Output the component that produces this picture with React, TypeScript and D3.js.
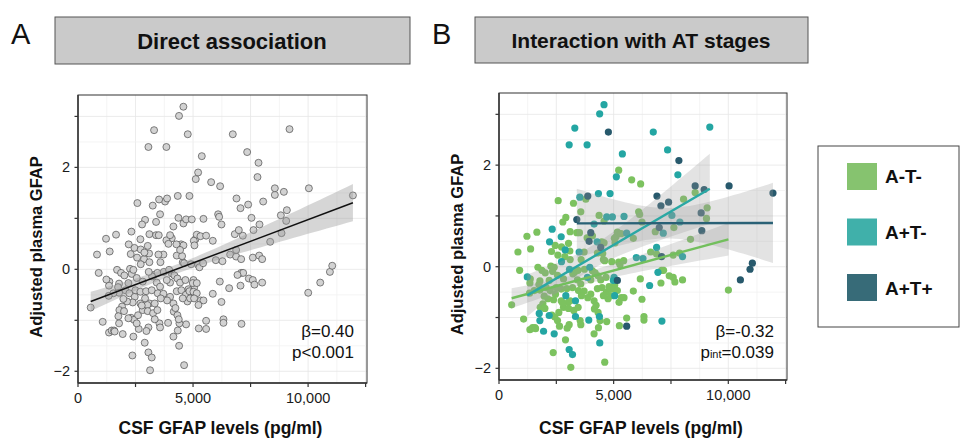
import React from 'react';
import * as d3 from 'd3';

// A-T- group: CSF GFAP (pg/ml) and adjusted plasma GFAP
const atNegX = [5220, 5786, 6177, 8555, 2581, 3248, 3785, 8048, 9077, 3567, 2915, 2784, 4365, 4582, 6090, 6134, 6235, 9048, 1218, 1653, 3103, 3393, 3509, 4075, 3842, 5104, 5162, 5322, 5858, 5032, 5061, 4481, 4582, 4292, 2291, 2451, 2726, 3031, 3089, 3712, 3582, 826, 1378, 6815, 8352, 7627, 6612, 6873, 899, 1363, 1348, 1697, 1871, 1784, 1740, 2016, 2262, 2335, 2407, 2567, 2871, 3103, 3292, 3451, 3727, 4075, 4002, 4191, 4321, 4437, 4553, 4611, 4524, 4916, 5220, 5278, 5438, 7091, 7178, 7062, 7424, 7598, 7670, 8004, 6163, 4669, 5046, 4800, 3422, 3567, 3219, 2813, 2552, 2190, 2059, 551, 2233, 2465, 2494, 2712, 2958, 3205, 3466, 3712, 4002, 4292, 4495, 4684, 4843, 5017, 5162, 5336, 5452, 5235, 4756, 4872, 4553, 4147, 3872, 3596, 3103, 2712, 2378, 2132, 1972, 1784, 1537, 1334, 1914, 1798, 2001, 2306, 2436, 2610, 2813, 3016, 3031, 3263, 3451, 3538, 4162, 4234, 4321, 5858, 6235, 5568, 6322, 6322, 10005, 1073, 2770, 1348, 1465, 1566, 1595, 2639, 3060, 2973, 3567, 2900, 4336, 4147, 4698, 5249, 2364, 4611, 3132, 4408, 2552, 7598, 7874];
const atNegY = [1.90, 1.71, 1.63, 1.46, 1.30, 1.25, 1.33, 1.33, 1.16, 1.08, 0.97, 0.88, 1.01, 0.90, 1.08, 1.03, 0.88, 0.95, 0.60, 0.68, 0.69, 0.67, 0.67, 0.61, 0.57, 0.59, 0.68, 0.65, 0.56, 0.56, 0.47, 0.49, 0.47, 0.27, 0.30, 0.42, 0.39, 0.46, 0.31, 0.29, 0.14, 0.29, 0.35, 0.69, 0.54, 0.77, 0.29, 0.25, -0.07, -0.24, -0.32, -0.01, -0.07, -0.28, -0.35, -0.12, 0.01, -0.09, -0.01, 0.23, 0.20, 0.14, -0.11, -0.07, -0.05, -0.08, -0.26, -0.12, -0.18, -0.26, 0.14, 0.12, 0.26, 0.10, 0.09, 0.04, 0.12, -0.07, -0.07, -0.32, -0.18, -0.21, -0.30, -0.26, -0.24, -0.21, -0.36, -0.39, -0.26, -0.34, -0.14, -0.24, -0.17, -0.27, -0.41, -0.75, -0.47, -0.54, -0.41, -0.44, -0.43, -0.41, -0.47, -0.48, -0.54, -0.43, -0.41, -0.50, -0.43, -0.44, -0.47, -0.61, -0.61, -0.70, -0.63, -0.57, -0.57, -0.67, -0.61, -0.57, -0.67, -0.67, -0.65, -0.63, -0.58, -0.46, -0.47, -0.52, -0.73, -0.80, -0.82, -0.95, -0.99, -0.90, -0.80, -0.70, -0.82, -0.86, -0.80, -1.06, -0.83, -0.76, -0.90, -0.48, -0.64, -1.01, -0.98, -1.05, -0.46, -1.03, -0.71, -1.24, -1.20, -1.20, -1.22, -1.17, -1.14, -1.21, -1.14, -1.44, -1.20, -1.32, -1.08, -1.16, -1.69, -1.88, -1.98, -1.06, -1.06, 0.23, 0.27];

// A+T- group
const apTnegX = [4580, 4390, 3306, 3060, 3842, 6728, 9193, 7352, 5380, 5118, 7801, 3524, 4336, 4843, 4698, 4945, 5452, 7540, 2320, 2712, 4147, 5568, 4278, 2204, 2886, 3495, 7163, 7888, 6873, 1233, 2726, 3074, 3959, 3857, 5989, 6279, 6931, 6569, 5017, 4988, 5046, 3335, 2915, 1755, 2190, 3335, 3915, 4379, 7105, 1943, 1784, 2407, 3060, 3205, 4394, 8004];
const apTnegY = [3.19, 3.01, 2.73, 2.40, 2.40, 2.65, 2.75, 2.30, 2.22, 1.77, 1.81, 1.37, 1.44, 1.44, 0.98, 0.98, 0.99, 1.01, 0.74, 0.59, 0.84, 0.66, 0.49, 0.49, 0.33, 0.29, 0.66, 0.88, 0.38, -0.20, 0.10, -0.05, -0.01, -0.21, 0.18, 0.16, -0.11, -0.37, -0.21, -0.27, -0.57, -0.67, -0.57, -0.92, -0.96, -0.98, -1.05, -0.98, -1.07, -1.27, -1.06, -1.32, -1.63, -1.73, -1.50, 0.20];

// A+T+ group
const apTposX = [4770, 7845, 8555, 10034, 8947, 11948, 3872, 6888, 7062, 7395, 8816, 3393, 4002, 4437, 3930, 6989, 8845, 7091, 5162, 10527, 10948, 11049, 5568];
const apTposY = [2.65, 2.09, 1.59, 1.59, 1.52, 1.45, 1.39, 1.39, 1.20, 1.27, 1.06, 0.93, 0.67, 0.38, 0.50, 0.77, 0.71, 0.20, -0.27, -0.26, -0.05, 0.07, -1.17];

// fitted lines: [intercept, slope] and CI [min half width, x at min, slope of widening]
const fitAllLine = [-0.724, 1.70e-4];
const fitAllBand = [0.09, 4200, 4.56e-5];
const fitAtNegLine = [-0.688, 1.227e-4];
const fitAtNegBand = [0.12, 3800, 4.8e-5];
const fitApTnegLine = [-0.889, 2.637e-4];
const fitApTnegBand = [0.23, 4000, 1.25e-4];
const fitApTposLine = [0.85, 1e-6];
const fitApTposBand = [0.3, 7300, 1.57e-4];

const groupNames = ['A-T-', 'A+T-', 'A+T+'];
const pointColors = ['#7cc25f', '#24a6a3', '#27596c'];
const lineColors = ['#72bf5c', '#2aa8a4', '#2a6176'];
const legendColors = ['#86c36f', '#40b0aa', '#376b78'];

const xTickValues = [0, 2500, 5000, 7500, 10000, 12500];
const xLabelValues = [0, 5000, 10000];
const yTickValues = [-2, -1, 0, 1, 2, 3];
const yLabelValues = [-2, 0, 2];

const FONT = "'Liberation Sans', Arial, Helvetica, sans-serif";
const xDomain = [0, 12560];
const yDomain = [-2.23, 3.42];

type Series = { xs: number[]; ys: number[]; color: string; line: number[]; band: number[]; lineColor: string };

function Panel({ left, top, right, bottom, series, grey, stat }: any) {
  const x = d3.scaleLinear().domain(xDomain).range([left, right]);
  const y = d3.scaleLinear().domain(yDomain).range([bottom, top]);
  const fmtX = d3.format(',');
  const fmtY = d3.format('d');
  const gridX = d3.range(0, 12501, 1250);
  const gridY = d3.range(-2, 3.01, 0.5);

  const bandPaths = (series as Series[]).map((s) => {
    const [lo, hi] = d3.extent(s.xs) as [number, number];
    const xs = d3.range(0, 41).map((i) => lo + ((hi - lo) * i) / 40);
    const fit = (v: number) => s.line[0] + s.line[1] * v;
    const hw = (v: number) => Math.sqrt(s.band[0] ** 2 + (s.band[2] * (v - s.band[1])) ** 2);
    const area = d3
      .area<number>()
      .x((v) => x(v))
      .y0((v) => y(fit(v) - hw(v)))
      .y1((v) => y(fit(v) + hw(v)));
    const line = d3
      .line<number>()
      .x((v) => x(v))
      .y((v) => y(fit(v)));
    return { area: area(xs), line: line([lo, hi]), color: s.lineColor };
  });

  return (
    <g>
      <rect x={left} y={top} width={right - left} height={bottom - top} fill="#fff" />
      {gridX.map((v) => (
        <line key={'gx' + v} x1={x(v)} x2={x(v)} y1={top} y2={bottom} stroke={v % 2500 === 0 ? '#e6e6e6' : '#f1f1f1'} strokeWidth={0.8} />
      ))}
      {gridY.map((v) => (
        <line key={'gy' + v} x1={left} x2={right} y1={y(v)} y2={y(v)} stroke={Number.isInteger(v) ? '#e6e6e6' : '#f1f1f1'} strokeWidth={0.8} />
      ))}
      {(series as Series[]).map((s, si) =>
        s.xs.map((v, i) => (
          <circle
            key={si + '-' + i}
            cx={x(v)}
            cy={y(s.ys[i])}
            r={grey ? 3.5 : 3.6}
            fill={grey ? '#d2d2d2' : s.color}
            stroke={grey ? '#4d4d4d' : 'none'}
            strokeWidth={0.7}
          />
        ))
      )}
      {bandPaths.map((b, i) => (
        <path key={'b' + i} d={b.area || ''} fill="#999" fillOpacity={grey ? 0.4 : 0.28} />
      ))}
      {bandPaths.map((b, i) => (
        <path key={'l' + i} d={b.line || ''} fill="none" stroke={b.color} strokeWidth={grey ? 1.5 : 2.4} />
      ))}
      <rect x={left} y={top} width={right - left} height={bottom - top} fill="none" stroke="#333" strokeWidth={1} />
      <line x1={left} x2={left} y1={top} y2={bottom} stroke="#333" strokeWidth={1.4} />
      <line x1={left} x2={right} y1={bottom} y2={bottom} stroke="#333" strokeWidth={1.4} />
      {xTickValues.map((v) => (
        <line key={'tx' + v} x1={x(v)} x2={x(v)} y1={bottom} y2={bottom + 4} stroke="#333" strokeWidth={1.2} />
      ))}
      {yTickValues.map((v) => (
        <line key={'ty' + v} x1={left - 3.5} x2={left} y1={y(v)} y2={y(v)} stroke="#333" strokeWidth={1.2} />
      ))}
      {xLabelValues.map((v) => (
        <text key={'lx' + v} x={x(v)} y={bottom + 20} textAnchor="middle" fontSize={14.5} fill="#1a1a1a">
          {fmtX(v)}
        </text>
      ))}
      {yLabelValues.map((v) => (
        <text key={'ly' + v} x={left - 8} y={y(v) + 5} textAnchor="end" fontSize={14.5} fill="#1a1a1a">
          {fmtY(v)}
        </text>
      ))}
      <text x={(left + right) / 2 - 2} y={434} textAnchor="middle" fontSize={17.5} fontWeight="bold" fill="#111">
        CSF GFAP levels (pg/ml)
      </text>
      <text transform={`translate(${left - 36},${(top + bottom) / 2 + 8}) rotate(-90)`} textAnchor="middle" fontSize={16.5} fontWeight="bold" fill="#111">
        Adjusted plasma GFAP
      </text>
      <text x={right - 13} y={337} textAnchor="end" fontSize={17} fill="#111">
        {stat[0]}
      </text>
      <text x={right - 13} y={358} textAnchor="end" fontSize={17} fill="#111">
        {stat[1]}
      </text>
    </g>
  );
}

export default function App() {
  const allSeries: Series[] = [
    {
      xs: [...atNegX, ...apTnegX, ...apTposX],
      ys: [...atNegY, ...apTnegY, ...apTposY],
      color: '#d2d2d2',
      line: fitAllLine,
      band: fitAllBand,
      lineColor: '#111',
    },
  ];
  const groupSeries: Series[] = [
    { xs: atNegX, ys: atNegY, color: pointColors[0], line: fitAtNegLine, band: fitAtNegBand, lineColor: lineColors[0] },
    { xs: apTnegX, ys: apTnegY, color: pointColors[1], line: fitApTnegLine, band: fitApTnegBand, lineColor: lineColors[1] },
    { xs: apTposX, ys: apTposY, color: pointColors[2], line: fitApTposLine, band: fitApTposBand, lineColor: lineColors[2] },
  ];

  return (
    <svg width={961} height={438} style={{ position: 'absolute', left: 0, top: 0, background: '#fff' }} fontFamily={FONT}>
      <rect width={961} height={438} fill="#fff" />
      {/* panel headers */}
      <text x={11} y={44} fontSize={29} fill="#111">A</text>
      <rect x={55} y={17} width={355} height={47} fill="#cacaca" stroke="#555" strokeWidth={1} />
      <text x={232} y={49} textAnchor="middle" fontSize={22} fontWeight="bold" fill="#111">Direct association</text>
      <text x={432} y={44} fontSize={29} fill="#111">B</text>
      <rect x={475} y={17} width={333} height={46} fill="#cacaca" stroke="#555" strokeWidth={1} />
      <text x={641} y={48} textAnchor="middle" fontSize={21} fontWeight="bold" fill="#111">Interaction with AT stages</text>

      <Panel left={78} top={95} right={367} bottom={383} series={allSeries} grey stat={['β=0.40', 'p<0.001']} />
      <Panel
        left={499}
        top={93}
        right={787}
        bottom={380}
        series={groupSeries}
        grey={false}
        stat={[
          'β=-0.32',
          <>
            p<tspan fontSize={11}>int</tspan>=0.039
          </>,
        ]}
      />

      {/* legend */}
      <rect x={818} y={146} width={141} height={181} fill="#fff" stroke="#444" strokeWidth={1} />
      {groupNames.map((g, i) => (
        <g key={g}>
          <rect x={847} y={163 + i * 55.5} width={30} height={27} fill={legendColors[i]} />
          <text x={885} y={183 + i * 56} fontSize={19} fontWeight="bold" fill="#111">
            {g}
          </text>
        </g>
      ))}
    </svg>
  );
}
